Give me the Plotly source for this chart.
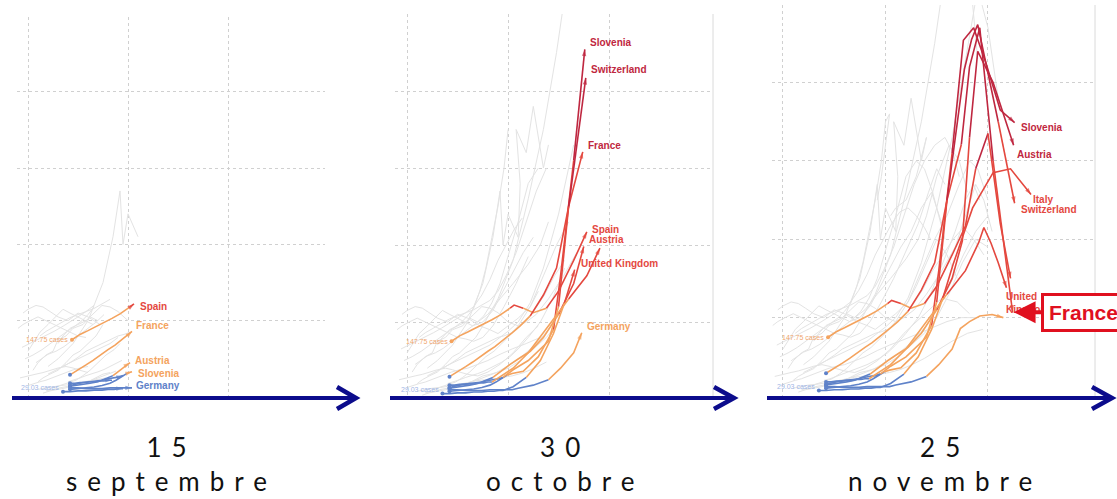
import plotly.graph_objects as go

W, H = 1117, 499

# country trajectories, one point per week (first 10 = 15 sept, 16 = 30 oct, 20 = 25 nov)
countries = ["Spain", "France", "Austria", "Slovenia", "Switzerland", "Germany", "Italy", "United Kingdom"]
path_x = [
    [44, 52, 60, 68, 76, 84, 92, 98, 102, 106, 115, 125, 138, 150, 165, 178, 188, 200, 212, 222],
    [42, 50, 58, 65, 72, 80, 87, 94, 99, 104, 112, 122, 135, 148, 160, 174, 182, 192, 205, 224],
    [42, 48, 55, 62, 70, 78, 85, 90, 96, 102, 110, 122, 135, 150, 165, 175, 182, 190, 205, 225],
    [42, 50, 58, 66, 74, 82, 88, 94, 99, 104, 115, 130, 145, 152, 165, 176, 186, 198, 212, 226],
    [42, 48, 55, 62, 68, 74, 80, 86, 90, 95, 105, 120, 140, 150, 160, 177, 184, 190, 210, 226],
    [42, 50, 58, 66, 74, 82, 88, 94, 99, 104, 110, 125, 140, 152, 165, 173, 182, 192, 204, 215],
    [35, 42, 50, 58, 66, 74, 80, 86, 91, 95, 105, 118, 132, 145, 156, 166, 185, 205, 222, 242],
    [42, 47, 52, 57, 62, 67, 72, 76, 80, 84, 105, 120, 140, 160, 178, 191, 196, 203, 210, 218],
]
path_y = [
    [75, 82, 87, 92, 97, 103, 109, 114, 118, 122, 118, 112, 118, 140, 180, 217, 290, 335, 220, 150],
    [29, 35, 42, 48, 55, 62, 68, 75, 80, 86, 95, 108, 135, 170, 250, 321, 420, 470, 300, 107],
    [14, 15, 17, 18, 20, 24, 28, 33, 40, 45, 52, 62, 80, 110, 150, 198, 330, 440, 400, 320],
    [10, 11, 12, 13, 15, 18, 22, 27, 31, 33, 36, 55, 90, 160, 310, 454, 470, 425, 365, 349],
    [15, 17, 19, 20, 21, 22, 24, 25, 26, 28, 38, 50, 75, 120, 250, 417, 455, 474, 350, 246],
    [12, 12, 11, 11, 11, 12, 12, 12, 12, 12, 14, 18, 25, 40, 60, 86, 95, 102, 104, 100],
    [7, 7, 8, 8, 9, 9, 10, 10, 11, 11, 16, 28, 50, 85, 125, 168, 240, 285, 290, 257],
    [18, 18, 19, 19, 20, 20, 21, 21, 22, 22, 40, 60, 95, 130, 160, 196, 215, 195, 170, 138],
]

# other countries, drawn in grey
gray_x = [
    [20, 30, 45, 60, 75, 85, 92, 95, 100, 110, 112, 108, 118, 125, 135, 140, 130, 120, 110, 105],
    [10, 15, 22, 30, 38, 45, 52, 60, 68, 75, 90, 105, 120, 135, 148, 158, 165, 175, 185, 190],
    [0, 5, 12, 20, 28, 35, 42, 50, 58, 65, 75, 85, 95, 105, 115, 125, 135, 145, 150, 155],
    [5, 10, 18, 25, 30, 38, 45, 55, 62, 70, 80, 92, 105, 120, 132, 140, 150, 162, 172, 180],
    [-5, 0, 8, 15, 22, 30, 40, 50, 60, 72, 82, 90, 100, 110, 122, 130, 140, 150, 160, 170],
    [15, 22, 30, 38, 45, 52, 60, 68, 75, 82, 90, 100, 112, 125, 138, 150, 162, 175, 188, 200],
    [-8, 0, 8, 15, 22, 30, 38, 45, 52, 60, 70, 80, 92, 105, 118, 130, 142, 155, 170, 182],
    [25, 32, 40, 48, 55, 62, 70, 78, 86, 92, 100, 110, 122, 135, 148, 160, 172, 182, 190, 200],
    [30, 35, 42, 50, 58, 66, 74, 82, 90, 100, 110, 118, 128, 140, 155, 168, 178, 188, 196, 204],
    [10, 18, 25, 33, 40, 48, 55, 62, 70, 78, 86, 94, 104, 115, 126, 138, 150, 165, 180, 195],
    [-10, -5, 2, 10, 18, 26, 34, 42, 50, 58, 66, 75, 85, 96, 108, 120, 132, 142, 150, 158],
    [20, 28, 35, 42, 50, 58, 66, 74, 82, 90, 100, 110, 122, 135, 150, 165, 178, 190, 200, 210],
    [35, 42, 50, 58, 66, 74, 82, 90, 96, 102, 108, 116, 126, 136, 146, 156, 166, 176, 186, 196],
    [0, 6, 12, 18, 24, 30, 36, 44, 52, 60, 70, 80, 92, 104, 118, 132, 146, 160, 174, 188],
    [-3, 5, 14, 22, 30, 38, 46, 54, 60, 66, 72, 78, 84, 90, 96, 100, 104, 100, 96, 92],
    [8, 14, 20, 28, 36, 44, 52, 60, 68, 76, 84, 92, 100, 110, 120, 130, 138, 146, 152, 158],
    [12, 18, 26, 34, 42, 50, 58, 66, 74, 82, 90, 98, 108, 118, 128, 138, 148, 158, 166, 172],
    [40, 46, 52, 58, 64, 70, 76, 82, 88, 94, 102, 110, 120, 132, 144, 156, 168, 178, 186, 192],
    [-6, 2, 10, 18, 26, 34, 42, 50, 58, 66, 74, 82, 90, 98, 106, 114, 122, 130, 138, 144],
    [18, 24, 32, 40, 48, 56, 64, 72, 80, 88, 96, 106, 116, 128, 140, 152, 164, 176, 188, 200],
]
gray_y = [
    [40, 50, 70, 100, 150, 210, 270, 200, 240, 210, 280, 350, 320, 380, 300, 330, 280, 250, 240, 230],
    [20, 25, 30, 35, 45, 55, 60, 70, 80, 95, 130, 180, 260, 350, 450, 540, 560, 540, 500, 430],
    [60, 70, 85, 95, 105, 115, 110, 105, 100, 95, 100, 115, 140, 165, 190, 210, 240, 260, 240, 220],
    [35, 45, 55, 60, 75, 80, 90, 95, 105, 100, 110, 130, 150, 175, 200, 230, 280, 320, 300, 260],
    [110, 115, 120, 118, 112, 105, 100, 110, 105, 95, 90, 85, 95, 105, 120, 140, 170, 200, 180, 150],
    [5, 8, 10, 12, 15, 18, 20, 25, 30, 32, 35, 40, 50, 65, 80, 100, 130, 170, 200, 190],
    [25, 28, 30, 32, 35, 38, 40, 38, 35, 32, 30, 35, 45, 60, 80, 95, 110, 125, 120, 105],
    [12, 15, 18, 22, 28, 35, 45, 55, 62, 70, 80, 95, 120, 160, 200, 230, 270, 300, 290, 250],
    [70, 80, 90, 95, 100, 110, 120, 118, 112, 100, 95, 100, 110, 130, 160, 190, 230, 270, 250, 210],
    [10, 12, 14, 15, 16, 18, 20, 22, 24, 25, 26, 28, 30, 34, 40, 48, 58, 70, 80, 85],
    [90, 95, 100, 105, 100, 95, 90, 85, 80, 78, 75, 80, 95, 120, 150, 185, 220, 260, 290, 270],
    [30, 35, 40, 45, 50, 55, 60, 65, 70, 78, 88, 100, 125, 170, 240, 330, 430, 520, 470, 380],
    [40, 45, 52, 60, 65, 70, 75, 80, 82, 85, 90, 100, 115, 135, 160, 180, 200, 215, 200, 180],
    [15, 18, 20, 22, 25, 28, 32, 35, 38, 40, 45, 50, 58, 65, 72, 80, 88, 95, 100, 100],
    [50, 55, 62, 70, 78, 85, 92, 100, 108, 118, 140, 170, 210, 250, 300, 350, 360, 320, 280, 250],
    [45, 50, 56, 60, 66, 74, 82, 90, 98, 108, 125, 150, 185, 230, 280, 300, 290, 260, 230, 200],
    [80, 86, 92, 98, 104, 108, 112, 116, 122, 128, 140, 160, 190, 230, 270, 300, 320, 330, 310, 280],
    [20, 22, 25, 28, 30, 33, 36, 40, 44, 48, 55, 65, 80, 100, 130, 170, 210, 250, 270, 250],
    [65, 70, 76, 80, 86, 92, 98, 105, 112, 120, 135, 155, 180, 200, 220, 235, 240, 230, 215, 200],
    [8, 10, 12, 14, 16, 19, 22, 26, 30, 34, 40, 48, 58, 72, 90, 115, 145, 180, 210, 230],
]

panel_steps = [10, 16, 20]
panel_days = ["15", "30", "25"]
panel_months = ["septembre", "octobre", "novembre"]
panel_labels = [
    ["Spain", "France", "Austria", "Slovenia", "Germany"],
    ["Slovenia", "Switzerland", "France", "Spain", "Austria", "United Kingdom", "Germany"],
    ["Slovenia", "Austria", "Italy", "Switzerland", "United Kingdom"],
]
start_notes = ["147.75 cases", "29.03 cases"]
callout = "France"

# colour bands along the lines
band_limits = [30, 120, 300]
band_colors = ["#5f82c9", "#f4a35e", "#e4483f", "#bf2740"]


def band(v):
    for i, lim in enumerate(band_limits):
        if v < lim:
            return i
    return len(band_limits)


# label offsets in pixels (xshift, yshift)
label_shift = [
    {"Spain": (4, -3), "France": (2, 6), "Austria": (3, 2), "Slovenia": (4, -2), "Germany": (2, 2)},
    {"Slovenia": (3, 7), "Switzerland": (3, 8), "France": (3, 6), "Spain": (3, 2), "Austria": (3, 7),
     "United Kingdom": (-21, -15), "Germany": (3, 6)},
    {"Slovenia": (4, -5), "Austria": (1, -9), "Italy": (0, -5), "Switzerland": (4, -6),
     "United Kingdom": (-2, -15)},
]

# panel geometry in pixels
x_ranges = [[-11, 297], [-12, 303], [-10.7, 304.4]]
x_dom_px = [(17, 325), (395, 713), (772, 1095)]
y_ranges = [[0, 498], [0, 500], [0, 499]]
y_dom_px = [(397, 17), (399, 14), (396, 5)]
arrow_px = [(12, 356, 337), (390, 734, 714), (767, 1112, 1092)]
arrow_y = 398
date_x = [171, 565, 945]

fig = go.Figure()
annotations = []
shapes = []

for p in range(3):
    key = "" if p == 0 else str(p + 1)
    xa, ya = "x" + key, "y" + key
    n = panel_steps[p]

    for gx, gy in zip(gray_x, gray_y):
        fig.add_trace(go.Scatter(x=gx[:n], y=gy[:n], mode="lines", xaxis=xa, yaxis=ya,
                                 line=dict(color="#e3e3e3", width=1), hoverinfo="skip"))

    for ci, name in enumerate(countries):
        xs, ys = path_x[ci][:n], path_y[ci][:n]
        bands = [band((ys[i] + ys[i + 1]) / 2) for i in range(n - 1)]
        i = 0
        while i < n - 1:
            j = i
            while j + 1 < n - 1 and bands[j + 1] == bands[i]:
                j += 1
            fig.add_trace(go.Scatter(x=xs[i:j + 2], y=ys[i:j + 2], mode="lines", xaxis=xa, yaxis=ya,
                                     line=dict(color=band_colors[bands[i]], width=1.6), hoverinfo="skip"))
            i = j + 1
        # start dot and end arrow
        fig.add_trace(go.Scatter(x=xs[:1], y=ys[:1], mode="markers", xaxis=xa, yaxis=ya,
                                 marker=dict(size=4, color=band_colors[band(ys[0])]), hoverinfo="skip"))
        end_col = band_colors[bands[-1]]
        fig.add_trace(go.Scatter(x=xs[-2:], y=ys[-2:], mode="markers", xaxis=xa, yaxis=ya,
                                 marker=dict(symbol="arrow", angleref="previous", size=[0, 7],
                                             color=end_col, line=dict(width=0)),
                                 hoverinfo="skip"))
        if name in panel_labels[p]:
            sx, sy = label_shift[p][name]
            text = name
            if p == 2 and name == "United Kingdom":
                text = "United<br>Kingdom"
            annotations.append(dict(x=xs[-1], y=ys[-1], xref=xa, yref=ya, text="<b>" + text + "</b>",
                                    showarrow=False, xanchor="left", yanchor="middle",
                                    xshift=sx, yshift=sy, align="left",
                                    font=dict(family="Arial", size=10, color=band_colors[band(ys[-1])])))

    # start value notes
    annotations.append(dict(x=path_x[0][0], y=path_y[0][0], xref=xa, yref=ya, text=start_notes[0],
                            showarrow=False, xanchor="right", xshift=-2,
                            font=dict(family="Arial", size=7, color="#f0a66e")))
    annotations.append(dict(x=path_x[5][0], y=path_y[5][0], xref=xa, yref=ya, text=start_notes[1],
                            showarrow=False, xanchor="right", xshift=-9,
                            font=dict(family="Arial", size=7, color="#9fb6e6")))

    fig.update_layout(**{
        "xaxis" + key: dict(domain=[x_dom_px[p][0] / W, x_dom_px[p][1] / W], range=x_ranges[p],
                            anchor=ya, tickvals=[0, 100, 200], showticklabels=False, ticks="",
                            showgrid=True, gridcolor="#d0d0d0", griddash="dot", gridwidth=1,
                            zeroline=False, showline=False, fixedrange=True),
        "yaxis" + key: dict(domain=[(H - y_dom_px[p][0]) / H, (H - y_dom_px[p][1]) / H], range=y_ranges[p],
                            anchor=xa, tickvals=[100, 200, 300, 400, 500], showticklabels=False, ticks="",
                            showgrid=True, gridcolor="#d0d0d0", griddash="dot", gridwidth=1,
                            zeroline=False, showline=False, fixedrange=True),
    })

    if p > 0:
        shapes.append(dict(type="line", xref=xa + " domain", yref=ya + " domain", x0=1, x1=1, y0=0, y1=1,
                           line=dict(color="#dadada", width=1), layer="below"))

    # navy time arrow
    x0, xt, xc = arrow_px[p]
    shapes.append(dict(type="line", xref="paper", yref="paper", x0=x0 / W, x1=(xt - 2) / W,
                       y0=(H - arrow_y) / H, y1=(H - arrow_y) / H,
                       line=dict(color="#0c0c8c", width=4)))
    shapes.append(dict(type="path", xref="paper", yref="paper",
                       path="M {:.5f},{:.5f} L {:.5f},{:.5f} L {:.5f},{:.5f}".format(
                           xc / W, (H - arrow_y + 11) / H, xt / W, (H - arrow_y) / H,
                           xc / W, (H - arrow_y - 11) / H),
                       line=dict(color="#0c0c8c", width=4.5)))

    # date label
    annotations.append(dict(x=date_x[p] / W, y=(H - 464) / H, xref="paper", yref="paper",
                            text='<span style="letter-spacing:10px">' + panel_days[p] + '</span><br>'
                                 '<span style="letter-spacing:10px">' + panel_months[p] + '</span>',
                            showarrow=False, xanchor="center", yanchor="middle", align="center",
                            font=dict(family="Lato", size=26, color="#111111")))

# France call-out
fi = countries.index(callout)
annotations.append(dict(x=path_x[fi][-1], y=path_y[fi][-1], xref="x3", yref="y3",
                        text="<b>" + callout + "</b>", showarrow=True, ax=71, ay=0,
                        arrowhead=2, arrowsize=1.1, arrowwidth=4, arrowcolor="#e0101f", standoff=1,
                        bordercolor="#e0101f", borderwidth=3, borderpad=5, bgcolor="white",
                        font=dict(family="Arial", size=21, color="#e0101f")))

fig.update_layout(width=W, height=H, margin=dict(l=0, r=0, t=0, b=0),
                  paper_bgcolor="white", plot_bgcolor="white", showlegend=False,
                  shapes=shapes, annotations=annotations)

# drop the browser's default page margin so the figure fills the window
fig.write_html("out.html", config={"displayModeBar": False},
               post_script="document.body.style.margin='0px';")
